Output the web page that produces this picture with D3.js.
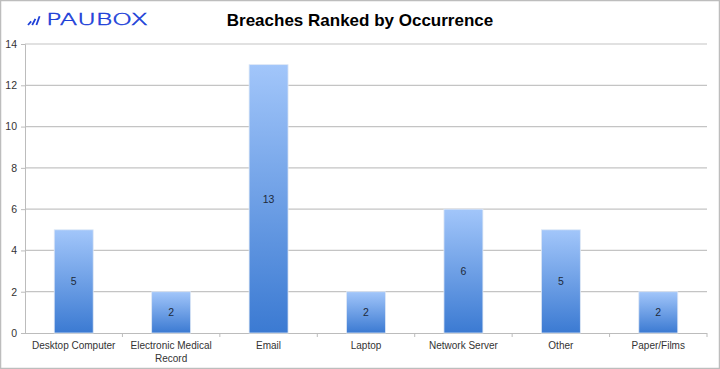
<!DOCTYPE html>
<html><head><meta charset="utf-8">
<script src="https://cdn.jsdelivr.net/npm/d3@7"></script>
<style>body{margin:0;background:#fff;}svg{display:block;font-family:"Liberation Sans",Arial,sans-serif;}</style>
</head><body>
<svg id="c" width="720" height="369"></svg>
<script>
const categories = ["Desktop Computer","Electronic Medical Record","Email","Laptop","Network Server","Other","Paper/Films"];
const values = [5,2,13,2,6,5,2];
const yTicks = [0,2,4,6,8,10,12,14];
const title = "Breaches Ranked by Occurrence";

(function(){
const svg = d3.select("#c");
const W=720,H=369;
svg.append("rect").attr("x",0.5).attr("y",0.5).attr("width",W-1).attr("height",H-1).attr("fill","#fff").attr("stroke","#bdbdbd").attr("stroke-width",1.5);

const mLeft=25,mRight=707,mTop=44,mBottom=333;
const x=d3.scaleBand().domain(categories).range([mLeft,mRight]).paddingInner(0.6).paddingOuter(0.3);
const y=d3.scaleLinear().domain([0,14]).range([mBottom,mTop]);

const defs=svg.append("defs");
const g=defs.append("linearGradient").attr("id","bg").attr("x1",0).attr("y1",0).attr("x2",0).attr("y2",1);
g.append("stop").attr("offset","0%").attr("stop-color","#a2c6fa");
g.append("stop").attr("offset","100%").attr("stop-color","#3b7ad2");

svg.append("g").selectAll("line").data(yTicks.filter(d=>d>0)).join("line")
 .attr("x1",mLeft).attr("x2",mRight).attr("y1",d=>y(d)).attr("y2",d=>y(d))
 .attr("stroke","#c4c4c4").attr("stroke-width",1.2);

const ya=svg.append("g").attr("transform",`translate(${mLeft},0)`).call(d3.axisLeft(y).tickValues(yTicks).tickSize(4).tickPadding(4));
ya.select(".domain").attr("stroke","#bcbcbc");
ya.selectAll(".tick line").attr("stroke","#bcbcbc");
ya.selectAll("text").attr("font-size",10.5).attr("fill","#333").attr("font-family","Liberation Sans, Arial, sans-serif");

const xb=d3.scaleLinear().domain([0,categories.length]).range([mLeft,mRight]);
svg.append("line").attr("x1",mLeft).attr("x2",mRight).attr("y1",mBottom+0.5).attr("y2",mBottom+0.5).attr("stroke","#bcbcbc").attr("stroke-width",1.2);
svg.append("g").selectAll("line").data(d3.range(1,categories.length+1)).join("line")
 .attr("x1",d=>xb(d)).attr("x2",d=>xb(d)).attr("y1",mBottom).attr("y2",mBottom+4).attr("stroke","#bcbcbc");

svg.append("g").selectAll("rect").data(values).join("rect")
 .attr("x",(d,i)=>x(categories[i])).attr("width",x.bandwidth())
 .attr("y",d=>y(d)).attr("height",d=>mBottom-y(d))
 .attr("fill","url(#bg)").attr("stroke","#dfe8f5").attr("stroke-width",0.8);

svg.append("g").selectAll("text").data(values).join("text")
 .attr("x",(d,i)=>x(categories[i])+x.bandwidth()/2).attr("y",d=>(y(d)+mBottom)/2+4)
 .attr("text-anchor","middle").attr("font-size",10.5).attr("fill","#1e2a3a").text(d=>d);

const xl=svg.append("g").selectAll("text").data(categories).join("text")
 .attr("x",d=>x(d)+x.bandwidth()/2).attr("y",mBottom+16)
 .attr("text-anchor","middle").attr("font-size",10).attr("fill","#333");
xl.each(function(d){
  const t=d3.select(this);
  const lines = d==="Electronic Medical Record" ? ["Electronic Medical","Record"] : [d];
  lines.forEach((l,i)=>t.append("tspan").attr("x",x(d)+x.bandwidth()/2).attr("dy",i?13:0).text(l));
});

svg.append("text").attr("x",360).attr("y",26).attr("text-anchor","middle")
 .attr("font-size",17).attr("font-weight","bold").attr("fill","#000").text(title);

const lg=svg.append("g");
[0,1,2].forEach(i=>{
  lg.append("line").attr("x1",28+i*4.2).attr("y1",25).attr("x2",28+i*4.2+3.2).attr("y2",25-(i+1)*2.6-1)
   .attr("stroke","#1d3fd8").attr("stroke-width",1.8);
});
lg.append("text").attr("x",46).attr("y",25).attr("font-size",16).attr("font-weight",200)
 .attr("textLength",102).attr("lengthAdjust","spacingAndGlyphs")
 .attr("font-family","DejaVu Sans, sans-serif").attr("fill","#1d3fd8").attr("stroke","#1d3fd8").attr("stroke-width",0.5)
 .text("PAUBOX");
})();
</script>
</body></html>
